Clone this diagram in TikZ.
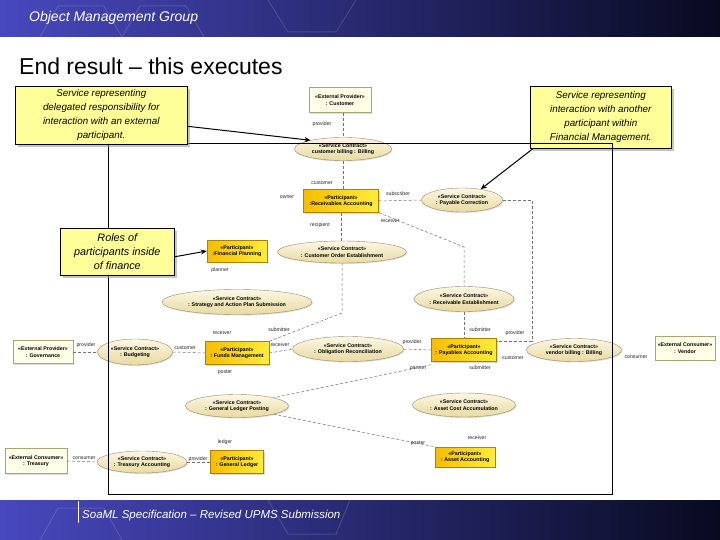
\documentclass[tikz,border=0pt]{standalone}
\usepackage{fontspec}
\setmainfont{Liberation Sans}
\usetikzlibrary{shapes.geometric,shadows,arrows.meta}
\definecolor{hdrA}{RGB}{72,72,190}
\definecolor{hdrM}{RGB}{34,40,115}
\definecolor{hdrB}{RGB}{8,10,32}
\definecolor{callfill}{RGB}{255,255,153}
\definecolor{goldA}{RGB}{245,190,0}
\definecolor{goldB}{RGB}{255,236,60}
\definecolor{goldD}{RGB}{170,130,0}
\definecolor{extfill}{RGB}{255,255,232}
\definecolor{extD}{RGB}{170,165,120}
\definecolor{scA}{RGB}{252,247,228}
\definecolor{scB}{RGB}{232,218,160}
\definecolor{scD}{RGB}{150,140,110}
\begin{document}
\begin{tikzpicture}[x=1pt,y=-1pt,
  part/.style={rectangle, draw=goldD, line width=0.4pt, left color=goldA, right color=goldB,
    inner sep=0.5pt, align=center, font=\fontsize{5.3}{6.3}\selectfont\bfseries,
    drop shadow={shadow xshift=1.2pt, shadow yshift=-1.2pt, fill=black!30}},
  ext/.style={rectangle, draw=extD, line width=0.4pt, fill=extfill,
    inner sep=0.5pt, align=center, font=\fontsize{5.3}{6.3}\selectfont\bfseries,
    drop shadow={shadow xshift=1.2pt, shadow yshift=-1.2pt, fill=black!25}},
  sc/.style={ellipse, draw=scD, line width=0.4pt, top color=scA, bottom color=scB,
    inner sep=0pt, align=center, font=\fontsize{5.3}{6.3}\selectfont\bfseries,
    drop shadow={shadow xshift=1pt, shadow yshift=-1pt, fill=black!25}},
  lab/.style={font=\fontsize{5.2}{6}\selectfont, text=black!85, inner sep=0pt},
  conn/.style={draw=black!55, dash pattern=on 3pt off 2pt, line width=0.5pt},
  callout/.style={rectangle, draw=black, line width=0.6pt, fill=callfill, align=center,
    inner sep=2pt, font=\fontsize{9.8}{14}\selectfont\itshape,
    drop shadow={shadow xshift=2.5pt, shadow yshift=-2.5pt, fill=black!45}},
  callarrow/.style={draw=black, line width=1pt, -{Stealth[length=6pt,width=5pt]}}]
\useasboundingbox (0,0) rectangle (720,540);
\fill[white] (0,0) rectangle (720,540);
% header and footer bands
\shade[left color=hdrA, middle color=hdrM, right color=hdrB] (0,0) rectangle (720,37);
\shade[left color=hdrA, middle color=hdrM, right color=hdrB] (0,500) rectangle (720,540);
\begin{scope}[draw=white, draw opacity=0.13, line width=1pt]
  \draw (40,37) -- (58,6) -- (104,6) -- (122,37);
  \draw (122,37) -- (140,6) -- (186,6) -- (204,37);
  \draw (268,0) -- (288,32) -- (336,32) -- (356,0);
  \draw (40,540) -- (58,508) -- (104,508) -- (122,540);
  \draw (268,500) -- (288,534) -- (336,534) -- (350,500);
\end{scope}
\node[anchor=west, text=white, font=\fontsize{14}{16}\selectfont\itshape, inner sep=0pt] (hdr) at (29,18) {Object Management Group};
\draw[white, line width=0.6pt] (78,501) -- (78,523);
\node[anchor=west, text=white, font=\fontsize{11.5}{13}\selectfont\itshape, inner sep=0pt] (ftr) at (82,516) {SoaML Specification – Revised UPMS Submission};
% title
\node[anchor=west, font=\fontsize{23}{26}\selectfont, inner sep=0pt] (title) at (19,66) {End result – this executes};

% nodes
\node[ext, minimum width=62pt, minimum height=25pt] (cust) at (340,100) {«External Provider»\\: Customer};
\node[sc, minimum width=97pt, minimum height=23pt] (cbill) at (343,149) {«Service Contract»\\customer billing : Billing};
\node[part, minimum width=75pt, minimum height=23pt] (recv) at (341,201) {«Participant»\\:Receivables Accounting};
\node[sc, minimum width=81pt, minimum height=24pt] (paycor) at (462,200) {«Service Contract»\\: Payable Correction};
\node[sc, minimum width=129pt, minimum height=22pt] (coe) at (342,252) {«Service Contract»\\: Customer Order Establishment};
\node[part, minimum width=60pt, minimum height=22pt] (fplan) at (237,251) {«Participant»\\:Financial Planning};
\node[sc, minimum width=150pt, minimum height=25pt] (strat) at (237,302) {«Service Contract»\\: Strategy and Action Plan Submission};
\node[sc, minimum width=100pt, minimum height=25pt] (recest) at (464,299) {«Service Contract»\\: Receivable Establishment};
\node[ext, minimum width=60pt, minimum height=23pt] (gov) at (43,352) {«External Provider»\\: Governance};
\node[sc, minimum width=75pt, minimum height=26pt] (budg) at (135,352) {«Service Contract»\\: Budgeting};
\node[part, minimum width=64pt, minimum height=23pt] (funds) at (237,353) {«Participant»\\: Funds Management};
\node[sc, minimum width=111pt, minimum height=25pt] (oblig) at (348,349) {«Service Contract»\\: Obligation Reconciliation};
\node[part, minimum width=65pt, minimum height=23pt] (payab) at (464,350) {«Participant»\\: Payables Accounting};
\node[sc, minimum width=95pt, minimum height=23pt] (vbill) at (574,350) {«Service Contract»\\vendor billing : Billing};
\node[ext, minimum width=60pt, minimum height=24pt] (vendor) at (685,348) {«External Consumer»\\: Vendor};
\node[sc, minimum width=103pt, minimum height=23pt] (glpost) at (237,406) {«Service Contract»\\: General Ledger Posting};
\node[sc, minimum width=103pt, minimum height=24pt] (acost) at (464,405) {«Service Contract»\\: Asset Cost Accumulation};
\node[ext, minimum width=62pt, minimum height=25pt] (treas) at (36,461) {«External Consumer»\\: Treasury};
\node[sc, minimum width=90pt, minimum height=22pt] (tacc) at (142,462) {«Service Contract»\\: Treasury Accounting};
\node[part, minimum width=53pt, minimum height=23pt] (gl) at (237,462) {«Participant»\\: General Ledger};
\node[part, minimum width=60pt, minimum height=20pt] (asset) at (465,457) {«Participant»\\: Asset Accounting};

% connectors
\coordinate (pc) at (532,341);
\coordinate (bend1) at (464,247);
\coordinate (bend2) at (342,313);
\draw[conn] (cbill.north |- cust.south) -- (cbill.north);
\draw[conn] (cbill.south) -- (cbill.south |- recv.north);
\draw[conn] (recv.east) -- (paycor.west);
\draw[conn] (paycor.east) -| (pc) -- (pc -| payab.east);
\draw[conn] (recv.south) -- (recv.south |- coe.north);
\draw[conn] (recv.south east) -- (bend1) -- (recest.north);
\draw[conn] (coe.south) -- (bend2) -- (funds.north east);
\draw[conn] (gov.east) -- (budg.west);
\draw[conn] (budg.east) -- (funds.west);
\draw[conn] (funds.east) -- (oblig.west);
\draw[conn] (oblig.east) -- (payab.west);
\draw[conn] (recest.south) -- (payab.north);
\draw[conn] ([yshift=-3pt]payab.south west) -- (glpost.north east);
\draw[conn] (glpost.south east) -- (asset.north west);
\draw[conn] (treas.east) -- (tacc.west);
\draw[conn] (tacc.east) -- (gl.west);

% role labels
\node[lab] (l1) at (322,124) {provider};
\node[lab] (l2) at (322,183) {customer};
\node[lab] (l3) at (287,197) {owner};
\node[lab] (l4) at (398,194) {subscriber};
\node[lab] (l5) at (320,225) {recipient};
\node[lab] (l6) at (390,221) {receiver};
\node[lab] (l7) at (220,270) {planner};
\node[lab] (l8) at (279,330) {submitter};
\node[lab] (l9) at (222,333) {receiver};
\node[lab] (l10) at (86,345) {provider};
\node[lab] (l11) at (185,348) {customer};
\node[lab] (l12) at (280,345) {receiver};
\node[lab] (l13) at (225,372) {poster};
\node[lab] (l14) at (412,342) {provider};
\node[lab] (l15) at (480,330) {submitter};
\node[lab] (l16) at (515,333) {provider};
\node[lab] (l17) at (513,358) {customer};
\node[lab] (l18) at (480,368) {submitter};
\node[lab] (l19) at (418,368) {partner};
\node[lab] (l20) at (636,357) {consumer};
\node[lab] (l21) at (225,442) {ledger};
\node[lab] (l22) at (418,443) {poster};
\node[lab] (l23) at (477,438) {receiver};
\node[lab] (l24) at (84,458) {consumer};
\node[lab] (l25) at (198,459) {provider};

% callout 2 sits under the frame line
\node[callout, anchor=north west, minimum width=141pt, minimum height=62pt] (c2) at (530,86)
  {Service representing\\interaction with another\\participant within\\Financial Management.};
% frame
\draw[line width=0.8pt] (108,143) rectangle (612,494);
% callouts 1 and 3
\node[callout, anchor=north west, minimum width=172pt, minimum height=58pt] (c1) at (15,86)
  {Service representing\\delegated responsibility for\\interaction with an external\\participant.};
\node[callout, anchor=north west, minimum width=114pt, minimum height=47pt, font=\fontsize{10.8}{14}\selectfont\itshape] (c3) at (60,228)
  {Roles of\\participants inside\\of finance};
\draw[callarrow] ([yshift=-11pt]c1.east) -- (cbill.165);
\draw[callarrow] ([xshift=3pt]c2.south west) -- (paycor.30);
\draw[callarrow] ([yshift=-5pt]c3.east) -- (fplan.west);
\end{tikzpicture}
\end{document}
